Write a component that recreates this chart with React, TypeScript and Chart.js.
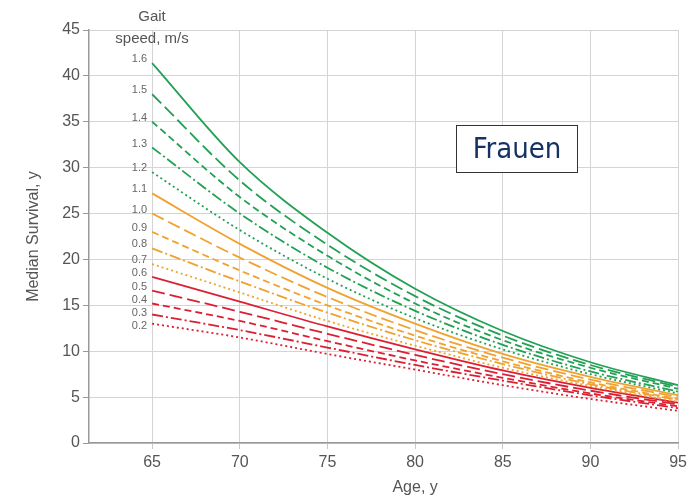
import React, { useEffect, useRef } from "react";
import { Chart, registerables } from "chart.js";

Chart.register(...registerables);

// ---------- data ----------
const AGES = [65, 70, 75, 80, 85, 90, 95];
const X_TICKS = [65, 70, 75, 80, 85, 90, 95];
const SPEED_LABELS = ["1.6", "1.5", "1.4", "1.3", "1.2", "1.1", "1.0", "0.9", "0.8", "0.7", "0.6", "0.5", "0.4", "0.3", "0.2"];

const SPEED_16 = [41.4, 30.6, 22.9, 16.8, 12.2, 8.8, 6.3];
const SPEED_15 = [38.0, 28.6, 21.6, 16.0, 11.7, 8.5, 6.1];
const SPEED_14 = [35.0, 26.8, 20.4, 15.2, 11.2, 8.2, 5.9];
const SPEED_13 = [32.2, 25.0, 19.1, 14.4, 10.7, 7.8, 5.6];
const SPEED_12 = [29.5, 23.2, 17.9, 13.6, 10.2, 7.5, 5.4];
const SPEED_11 = [27.2, 21.7, 16.9, 13.0, 9.7, 7.2, 5.2];
const SPEED_10 = [25.0, 20.2, 15.9, 12.3, 9.3, 6.9, 5.0];
const SPEED_09 = [23.0, 18.8, 15.0, 11.7, 8.9, 6.6, 4.8];
const SPEED_08 = [21.2, 17.6, 14.2, 11.2, 8.6, 6.4, 4.7];
const SPEED_07 = [19.5, 16.4, 13.3, 10.6, 8.2, 6.2, 4.5];
const SPEED_06 = [18.1, 15.4, 12.7, 10.2, 7.9, 6.0, 4.4];
const SPEED_05 = [16.6, 14.3, 11.9, 9.6, 7.5, 5.7, 4.2];
const SPEED_04 = [15.2, 13.3, 11.1, 9.0, 7.1, 5.4, 4.0];
const SPEED_03 = [14.0, 12.3, 10.4, 8.5, 6.8, 5.2, 3.8];
const SPEED_02 = [13.0, 11.5, 9.7, 8.0, 6.3, 4.8, 3.5];

const SERIES = [
  SPEED_16, SPEED_15, SPEED_14, SPEED_13, SPEED_12,
  SPEED_11, SPEED_10, SPEED_09, SPEED_08, SPEED_07,
  SPEED_06, SPEED_05, SPEED_04, SPEED_03, SPEED_02,
];

// ---------- styles ----------
const GREEN = "rgb(34,160,84)";
const ORANGE = "rgb(240,162,48)";
const RED = "rgb(220,32,52)";
const GROUP_COLORS = [GREEN, ORANGE, RED];
const DASHES: number[][] = [[], [13, 5], [7, 4], [11, 3, 2, 3], [2, 3]];

const TICK_FONT = { family: '"Liberation Sans", Arial, sans-serif', size: 16 };
const TEXT_COLOR = "#555";

const textPlugin = {
  id: "textPlugin",
  afterDraw(chart: any) {
    const ctx = chart.ctx;
    const xs = chart.scales.x;
    const ys = chart.scales.y;
    const area = chart.chartArea;
    ctx.save();
    // gait speed labels, placed next to each line's start, kept 13px apart
    ctx.fillStyle = "#666";
    ctx.font = '11px "Liberation Sans", Arial, sans-serif';
    ctx.textAlign = "right";
    ctx.textBaseline = "middle";
    let prev = -Infinity;
    SERIES.forEach((s, i) => {
      const x = xs.getPixelForValue(AGES[0]) - 5;
      let y = ys.getPixelForValue(s[0]) - 4;
      if (y < prev + 13) y = prev + 13;
      prev = y;
      ctx.fillText(SPEED_LABELS[i], x, y);
    });
    // header
    ctx.fillStyle = TEXT_COLOR;
    ctx.font = '15px "Liberation Sans", Arial, sans-serif';
    ctx.textAlign = "center";
    ctx.fillText("Gait", 152, 17);
    ctx.fillText("speed, m/s", 152, 39);
    // axis titles
    ctx.font = '16px "Liberation Sans", Arial, sans-serif';
    ctx.fillText("Age, y", xs.getPixelForValue(80), 488);
    ctx.translate(34, (area.top + area.bottom) / 2);
    ctx.rotate(-Math.PI / 2);
    ctx.fillText("Median Survival, y", 0, 0);
    ctx.restore();
    // Frauen box
    ctx.save();
    ctx.fillStyle = "#fff";
    ctx.fillRect(456, 125, 121, 47);
    ctx.strokeStyle = "#333";
    ctx.lineWidth = 1;
    ctx.strokeRect(456.5, 125.5, 121, 47);
    ctx.fillStyle = "rgb(22,50,100)";
    ctx.font = '29px "DejaVu Sans Condensed", "DejaVu Sans", sans-serif';
    ctx.textAlign = "center";
    ctx.textBaseline = "middle";
    ctx.fillText("Frauen", 517, 150);
    ctx.restore();
  },
};

export default function App() {
  const ref = useRef<HTMLCanvasElement | null>(null);
  useEffect(() => {
    document.body.style.margin = "0";
    const canvas = ref.current!;
    const datasets = SERIES.map((s, i) => ({
      label: SPEED_LABELS[i],
      data: s.map((v, j) => ({ x: AGES[j], y: v })),
      borderColor: GROUP_COLORS[Math.floor(i / 5)],
      borderDash: DASHES[i % 5],
      borderWidth: 1.8,
      pointRadius: 0,
      fill: false,
      tension: 0.4,
      cubicInterpolationMode: "monotone" as const,
    }));
    const chart = new Chart(canvas, {
      type: "line",
      data: { datasets },
      options: {
        animation: false,
        responsive: false,
        layout: { padding: { top: 30, right: 11, left: 0, bottom: 0 } },
        plugins: { legend: { display: false }, tooltip: { enabled: false } },
        scales: {
          x: {
            type: "linear",
            min: 61.4,
            max: 95,
            afterBuildTicks: (scale: any) => {
              scale.ticks = X_TICKS.map((v) => ({ value: v }));
            },
            afterFit: (scale: any) => {
              scale.height = 57;
            },
            grid: { color: "#d4d4d4", lineWidth: 1, tickLength: 6, tickColor: "#c8c8c8" },
            border: { color: "#999", width: 1.5 },
            ticks: { font: TICK_FONT, color: TEXT_COLOR, padding: 4, maxRotation: 0 },
          },
          y: {
            type: "linear",
            min: 0,
            max: 45,
            ticks: { stepSize: 5, font: TICK_FONT, color: TEXT_COLOR, padding: 3 },
            afterFit: (scale: any) => {
              scale.width = 89;
            },
            grid: { color: "#d4d4d4", lineWidth: 1, tickLength: 6, tickColor: "#999" },
            border: { color: "#999", width: 1.5 },
          },
        },
      },
      plugins: [textPlugin],
    });
    return () => chart.destroy();
  }, []);
  return (
    <div style={{ position: "fixed", left: 0, top: 0, width: 691, height: 500, background: "#fff" }}>
      <canvas ref={ref} width={691} height={500} />
    </div>
  );
}
